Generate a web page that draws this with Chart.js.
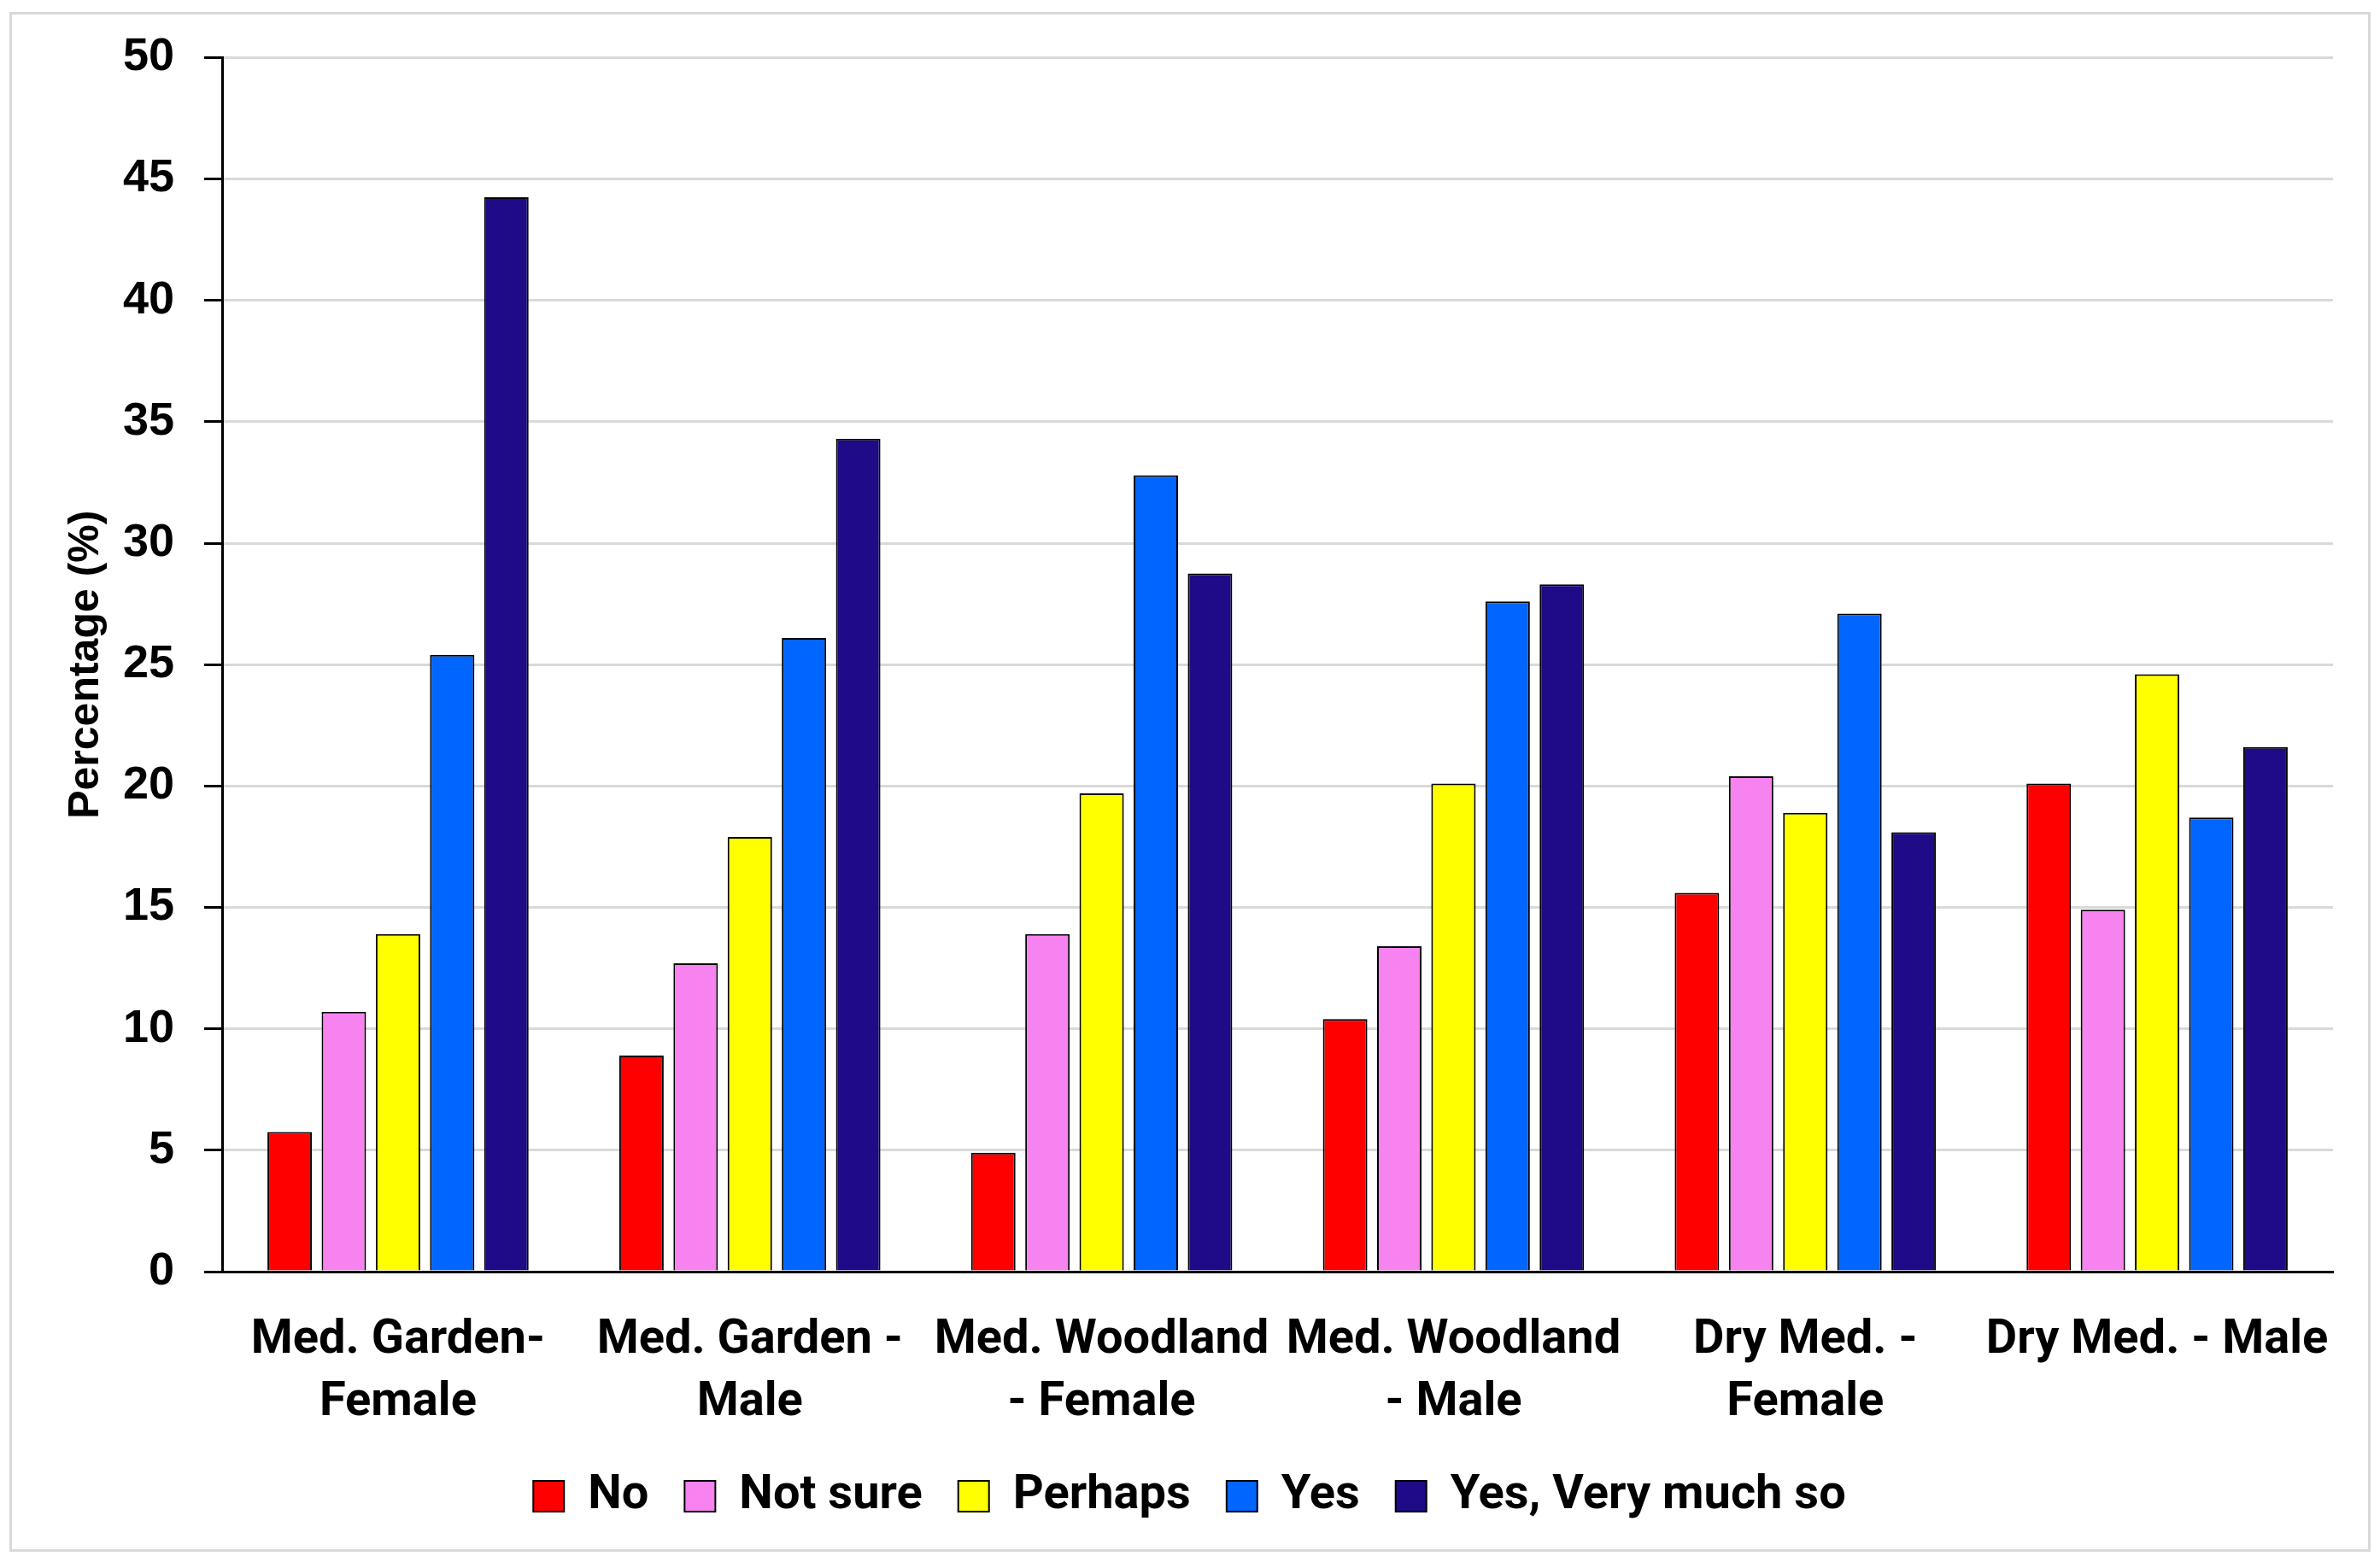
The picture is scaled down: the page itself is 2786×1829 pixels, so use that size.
<!DOCTYPE html>
<html>
<head>
<meta charset="utf-8">
<script src="https://cdn.jsdelivr.net/npm/chart.js@4.4.1/dist/chart.umd.min.js"></script>
<style>
  html, body { margin: 0; padding: 0; background: #ffffff; }
  #wrap { width: 2786px; height: 1829px; position: relative; }
</style>
</head>
<body>
<div id="wrap"><canvas id="c" width="2786" height="1829"></canvas></div>
<script>
const categories = [
  ["Med. Garden-", "Female"],
  ["Med. Garden -", "Male"],
  ["Med. Woodland", "- Female"],
  ["Med. Woodland", "- Male"],
  ["Dry Med. -", "Female"],
  ["Dry Med. - Male"]
];
const seriesNames = ["No", "Not sure", "Perhaps", "Yes", "Yes, Very much so"];
const noValues      = [5.75, 8.9, 4.9, 10.4, 15.6, 20.1];
const notSureValues = [10.7, 12.7, 13.9, 13.4, 20.4, 14.9];
const perhapsValues = [13.9, 17.9, 19.7, 20.1, 18.9, 24.6];
const yesValues     = [25.4, 26.1, 32.8, 27.6, 27.1, 18.7];
const veryMuchValues= [44.25, 34.3, 28.75, 28.3, 18.1, 21.6];
const yTicks = [0, 5, 10, 15, 20, 25, 30, 35, 40, 45, 50];
const yAxisTitle = "Percentage (%)";

const colors = ["#FF0000", "#F783F0", "#FFFF00", "#0066FF", "#1F0A87"];
const seriesValues = [noValues, notSureValues, perhapsValues, yesValues, veryMuchValues];

const frame = {
  id: 'frame',
  beforeDraw(chart) {
    const ctx = chart.ctx;
    ctx.save();
    ctx.fillStyle = '#ffffff';
    ctx.fillRect(0, 0, chart.width, chart.height);
    ctx.strokeStyle = '#d9d9d9';
    ctx.lineWidth = 3;
    ctx.strokeRect(12.5, 15.5, 2761, 1800);
    ctx.restore();
  }
};

new Chart(document.getElementById('c'), {
  type: 'bar',
  data: {
    labels: categories,
    datasets: seriesNames.map((name, i) => ({
      label: name,
      data: seriesValues[i],
      backgroundColor: colors[i],
      borderColor: '#000000',
      borderWidth: 2,
      categoryPercentage: 0.77,
      barPercentage: 0.82
    }))
  },
  options: {
    responsive: false,
    animation: false,
    devicePixelRatio: 1,
    layout: { padding: { left: 54, right: 55, top: 67, bottom: 39 } },
    plugins: {
      tooltip: { enabled: false },
      legend: {
        position: 'bottom',
        labels: {
          color: '#000000',
          boxWidth: 36,
          boxHeight: 36,
          padding: 42,
          font: { family: 'Roboto', weight: 'bold', size: 56 }
        }
      }
    },
    scales: {
      x: {
        afterFit(axis) { axis.height = 193; },
        grid: { display: false, drawTicks: false },
        border: { color: '#000000', width: 3 },
        ticks: {
          color: '#000000',
          padding: 45,
          maxRotation: 0,
          autoSkip: false,
          font: { family: 'Roboto', weight: 'bold', size: 56, lineHeight: 1.3 }
        }
      },
      y: {
        min: 0,
        max: 50,
        afterFit(axis) { axis.width = 206; },
        afterBuildTicks(axis) { axis.ticks = yTicks.map(v => ({ value: v })); },
        grid: { color: '#d9d9d9', lineWidth: 3, tickColor: '#000000', tickLength: 21, tickWidth: 3 },
        border: { color: '#000000', width: 3 },
        ticks: {
          color: '#000000',
          padding: 35,
          font: { family: 'Liberation Sans', weight: 'bold', size: 54 }
        },
        title: {
          display: true,
          text: yAxisTitle,
          color: '#000000',
          padding: 17,
          font: { family: 'Liberation Sans', weight: 'bold', size: 50 }
        }
      }
    }
  },
  plugins: [frame]
});
</script>
</body>
</html>
